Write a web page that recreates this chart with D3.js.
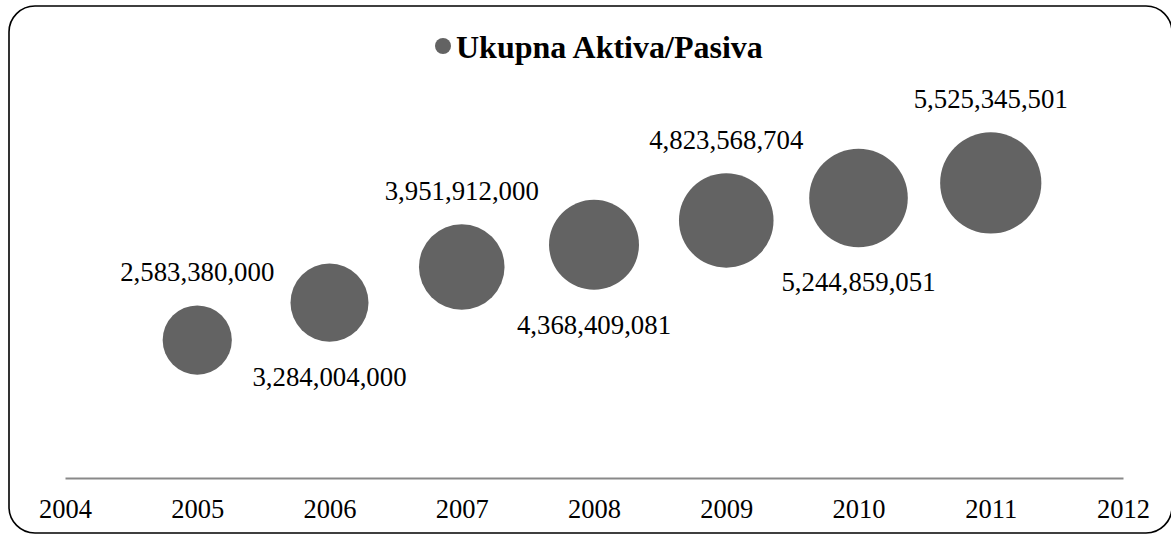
<!DOCTYPE html>
<html>
<head>
<meta charset="utf-8">
<script src="https://cdn.jsdelivr.net/npm/d3@7"></script>
<style>
  body { margin: 0; background: #fff; }
  text { font-family: "Liberation Serif", "Times New Roman", serif; }
</style>
</head>
<body>
<svg></svg>
<script>
// Ukupna Aktiva/Pasiva po godinama
var years = [2005, 2006, 2007, 2008, 2009, 2010, 2011];
var values = [2583380000, 3284004000, 3951912000, 4368409081, 4823568704, 5244859051, 5525345501];
var labelSide = ["above", "below", "above", "below", "above", "below", "above"];
var tickYears = [2004, 2005, 2006, 2007, 2008, 2009, 2010, 2011, 2012];
var title = "Ukupna Aktiva/Pasiva";

var width = 1171, height = 535;
var bubbleColor = "#636363";

var svg = d3.select("svg")
    .attr("width", width)
    .attr("height", height);

// frame (right edge sits just past the window)
svg.append("rect")
    .attr("x", 9).attr("y", 6)
    .attr("width", 1172 - 9).attr("height", 533 - 6)
    .attr("rx", 26).attr("ry", 26)
    .attr("fill", "#fff")
    .attr("stroke", "#000")
    .attr("stroke-width", 1.6);

var x = d3.scaleLinear().domain([2004, 2012]).range([65, 1123]);
var y = d3.scaleLinear().domain([0, 6e9]).range([478, 157.6]);
var r = d3.scaleSqrt().domain([0, d3.max(values)]).range([0, 50.6]);

// axis
var axis = svg.append("g")
    .attr("transform", "translate(0,478)")
    .call(d3.axisBottom(x).tickValues(tickYears).tickFormat(d3.format("d")).tickSize(0).tickPadding(21));
axis.select(".domain").attr("stroke", "#898989").attr("stroke-width", 2);
axis.selectAll("text")
    .attr("font-size", 26.5)
    .attr("font-family", "Liberation Serif, Times New Roman, serif")
    .attr("fill", "#000");

// bubbles
var data = years.map(function(d, i) { return {year: d, value: values[i], side: labelSide[i]}; });

svg.selectAll("circle.bubble")
    .data(data)
    .enter()
    .append("circle")
    .attr("class", "bubble")
    .attr("cx", function(d) { return x(d.year); })
    .attr("cy", function(d) { return y(d.value); })
    .attr("r", function(d) { return r(d.value); })
    .attr("fill", bubbleColor);

svg.selectAll("text.lbl")
    .data(data)
    .enter()
    .append("text")
    .attr("class", "lbl")
    .attr("x", function(d) { return x(d.year); })
    .attr("y", function(d) {
        var cy = y(d.value), rr = r(d.value);
        return d.side == "above" ? cy - rr - 24 : cy + rr + 44;
    })
    .attr("text-anchor", "middle")
    .attr("font-size", 26.8)
    .attr("fill", "#000")
    .text(function(d) { return d3.format(",")(d.value); });

// title with legend dot
svg.append("circle")
    .attr("cx", 443).attr("cy", 46).attr("r", 8)
    .attr("fill", bubbleColor);
svg.append("text")
    .attr("x", 456).attr("y", 58)
    .attr("font-size", 32)
    .attr("font-weight", "bold")
    .attr("fill", "#000")
    .text(title);
</script>
</body>
</html>
